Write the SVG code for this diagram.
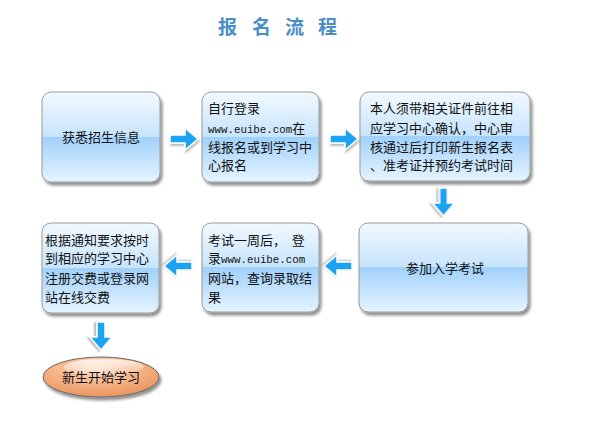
<svg xmlns="http://www.w3.org/2000/svg" width="600" height="423" viewBox="0 0 600 423">
<defs>
<linearGradient id="boxg" x1="0" y1="0" x2="0" y2="1">
<stop offset="0" stop-color="#f2f9ff"/>
<stop offset="0.5" stop-color="#c6e4fd"/>
<stop offset="0.5" stop-color="#9fd1fb"/>
<stop offset="0.56" stop-color="#a9d5fb"/>
<stop offset="1" stop-color="#e6f4ff"/>
</linearGradient>
<radialGradient id="ellg" cx="0.45" cy="0.3" r="0.7">
<stop offset="0" stop-color="#fde3d0"/>
<stop offset="0.45" stop-color="#f8b88e"/>
<stop offset="1" stop-color="#e9955e"/>
</radialGradient>
<linearGradient id="gloss" x1="0" y1="0" x2="0" y2="1">
<stop offset="0" stop-color="#ffffff" stop-opacity="0.8"/>
<stop offset="1" stop-color="#ffffff" stop-opacity="0"/>
</linearGradient>
<filter id="sh" x="-10%" y="-10%" width="125%" height="130%">
<feGaussianBlur in="SourceAlpha" stdDeviation="1.5"/>
<feOffset dx="1.5" dy="2.5" result="b"/>
<feComponentTransfer><feFuncA type="linear" slope="0.45"/></feComponentTransfer>
<feMerge><feMergeNode/><feMergeNode in="SourceGraphic"/></feMerge>
</filter>
<filter id="ash" x="-30%" y="-30%" width="160%" height="160%">
<feGaussianBlur in="SourceAlpha" stdDeviation="1"/>
<feOffset dx="1" dy="1.5" result="b"/>
<feComponentTransfer><feFuncA type="linear" slope="0.3"/></feComponentTransfer>
<feMerge><feMergeNode/><feMergeNode in="SourceGraphic"/></feMerge>
</filter>
<path id="arrR" d="M0,-4 L15,-4 L15,-11 L28,0 L15,11 L15,4 L0,4 Z"/>
</defs>
<style>
.box{fill:url(#boxg);stroke:#9a9a9a;stroke-width:1;filter:url(#sh)}
.t{font-family:"Noto Sans CJK SC","Noto Sans",sans-serif;font-size:13px;fill:#111}
.m{font-family:"Liberation Mono",monospace;font-size:10.8px}
.arr{fill:#1aa3f2;stroke:#ffffff;stroke-width:1.5;stroke-linejoin:miter;filter:url(#ash)}
.title{font-family:"Noto Sans CJK SC",sans-serif;font-size:19px;font-weight:bold;fill:#4a8ec6}
</style>
<rect width="600" height="423" fill="#ffffff"/>
<text class="title" x="218 237 252 271 285 304 318" y="34">报 名 流 程</text>

<g id="n1">
<rect class="box" x="42" y="92" width="118" height="90" rx="9"/>
<text class="t" x="101" y="142" text-anchor="middle">获悉招生信息</text>
</g>
<g id="n2">
<rect class="box" x="202" y="92" width="117" height="90" rx="9"/>
<text class="t" x="208" y="113">自行登录</text>
<text class="t" x="208" y="133"><tspan class="m">www.euibe.com</tspan>在</text>
<text class="t" x="208" y="152">线报名或到学习中</text>
<text class="t" x="208" y="170">心报名</text>
</g>
<g id="n3">
<rect class="box" x="360" y="92" width="170" height="89" rx="9"/>
<text class="t" x="370" y="113">本人须带相关证件前往相</text>
<text class="t" x="370" y="133">应学习中心确认，中心审</text>
<text class="t" x="370" y="152">核通过后打印新生报名表</text>
<text class="t" x="370" y="170">、准考证并预约考试时间</text>
</g>
<g id="n4">
<rect class="box" x="359" y="223" width="169" height="89" rx="9"/>
<text class="t" x="445" y="273" text-anchor="middle">参加入学考试</text>
</g>
<g id="n5">
<rect class="box" x="202" y="223" width="117" height="89" rx="9"/>
<text class="t" x="208" y="245" xml:space="preserve">考试一周后，  登</text>
<text class="t" x="208" y="263">录<tspan class="m">www.euibe.com</tspan></text>
<text class="t" x="208" y="283">网站，查询录取结</text>
<text class="t" x="208" y="302">果</text>
</g>
<g id="n6">
<rect class="box" x="42" y="223" width="117" height="90" rx="9"/>
<text class="t" x="45" y="245">根据通知要求按时</text>
<text class="t" x="45" y="263">到相应的学习中心</text>
<text class="t" x="45" y="283">注册交费或登录网</text>
<text class="t" x="45" y="302">站在线交费</text>
</g>
<g id="n7">
<ellipse cx="101" cy="377" rx="58" ry="20" fill="url(#ellg)" stroke="#6a6a6a" stroke-width="1" filter="url(#sh)"/>
<ellipse cx="104" cy="367" rx="40" ry="8" fill="url(#gloss)"/>
<text class="t" x="101" y="382" text-anchor="middle">新生开始学习</text>
</g>

<g id="connectors">
<use href="#arrR" class="arr" transform="translate(170,139)"/>
<use href="#arrR" class="arr" transform="translate(330,139)"/>
<use href="#arrR" class="arr" transform="translate(443.5,188) rotate(90)"/>
<use href="#arrR" class="arr" transform="translate(352,266) rotate(180)"/>
<use href="#arrR" class="arr" transform="translate(192,266) rotate(180)"/>
<use href="#arrR" class="arr" transform="translate(101,322) rotate(90)"/>
</g>
</svg>
